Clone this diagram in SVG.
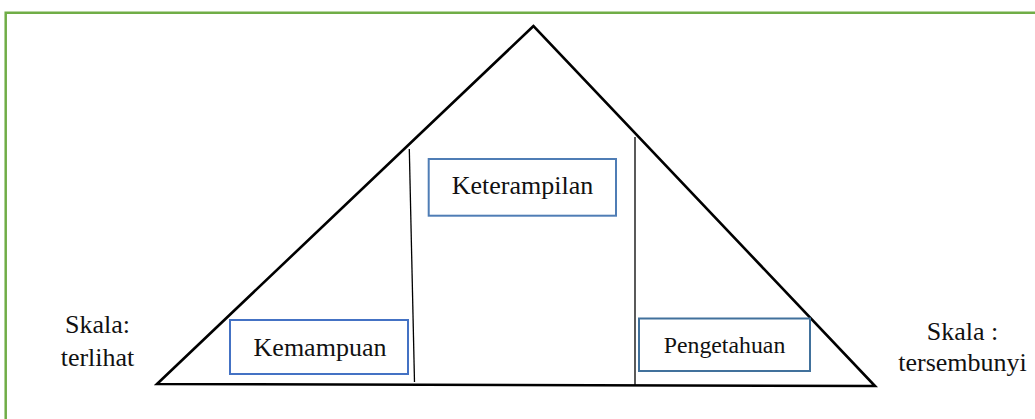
<svg xmlns="http://www.w3.org/2000/svg" width="1035" height="419" viewBox="0 0 1035 419">
<style>
text{font-family:"Liberation Serif","Times New Roman",serif;fill:#111;text-anchor:middle}
.box{fill:#fff;stroke-width:2}
.tri{fill:none;stroke:#000;stroke-width:2.6;stroke-linejoin:miter}
.div{stroke:#000;stroke-width:1.3}
</style>
<rect x="0" y="0" width="1035" height="419" fill="#fff"/>
<path id="frame" d="M5.7,425 V12.8 H1040" fill="none" stroke="#70AD47" stroke-width="2.5"/>
<g id="connectors">
<polygon class="tri" points="533.5,26 157,384 875,386"/>
<line class="div" x1="409.3" y1="149" x2="414.5" y2="382"/>
<line class="div" x1="635" y1="137" x2="635" y2="385"/>
</g>
<g id="keterampilan">
<rect class="box" x="428.7" y="159" width="187.3" height="56.7" stroke="#4F7DB5"/>
<text x="522.5" y="194" font-size="26">Keterampilan</text>
</g>
<g id="kemampuan">
<rect class="box" x="230" y="320" width="178" height="54" stroke="#4472C4"/>
<text x="320" y="356" font-size="26">Kemampuan</text>
</g>
<g id="pengetahuan">
<rect class="box" x="639" y="318.5" width="171" height="52.5" stroke="#41719C"/>
<text x="724.5" y="352.7" font-size="23.8">Pengetahuan</text>
</g>
<g id="skala-left">
<text x="97.5" y="333" font-size="26">Skala:</text>
<text x="97.5" y="366" font-size="26">terlihat</text>
</g>
<g id="skala-right">
<text x="962.5" y="340" font-size="26">Skala :</text>
<text x="962.5" y="370.7" font-size="26">tersembunyi</text>
</g>
</svg>
